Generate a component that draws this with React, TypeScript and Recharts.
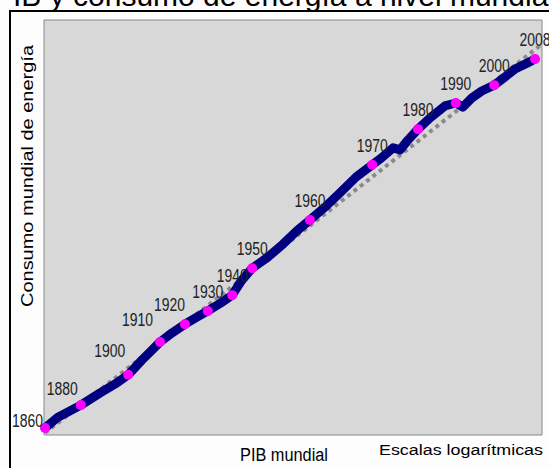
import React from 'react'
import {
  ComposedChart,
  Line,
  Scatter,
  XAxis,
  YAxis,
  CartesianGrid,
  ReferenceArea,
} from 'recharts'

// both axes are logarithmic in the original, values here are an index (0-100) of log GDP / log energy
const markerYears = [1860, 1880, 1900, 1910, 1920, 1930, 1940, 1950, 1960, 1970, 1980, 1990, 2000, 2008]
const markerGdp = [0.2, 7.4, 16.9, 23.3, 28.3, 32.9, 37.8, 41.8, 53.4, 65.9, 75.1, 82.7, 90.4, 98.6]
const markerEnergy = [1.7, 7.2, 14.5, 22.4, 26.7, 29.9, 33.7, 40.2, 51.8, 65.1, 73.7, 80.0, 84.3, 90.6]

// the full track (markers plus the wiggles between them)
const pathGdp = [
  0.2, 2.8, 7.4, 11.2, 14.3, 16.9, 19.7, 21.3, 23.3, 25.7, 28.3, 30.7, 32.9, 35.5, 37.8, 39.6,
  41.8, 45.0, 48.0, 50.8, 53.4, 56.4, 59.4, 62.7, 65.9, 67.7, 70.1, 71.5, 73.1, 75.1, 77.5,
  80.5, 82.7, 84.1, 85.9, 87.9, 90.4, 92.6, 94.6, 97.0, 98.6,
]
const pathEnergy = [
  1.7, 4.3, 7.2, 10.1, 12.3, 14.5, 18.1, 20.0, 22.4, 24.6, 26.7, 28.4, 29.9, 31.8, 33.7, 37.1,
  40.2, 42.9, 46.0, 49.2, 51.8, 54.9, 58.3, 62.2, 65.1, 66.7, 69.2, 68.7, 71.1, 73.7, 76.4,
  79.3, 80.0, 79.0, 81.2, 82.9, 84.3, 86.3, 88.2, 89.6, 90.6,
]

// dotted trend
const trendGdp = [0.2, 99.8]
const trendEnergy = [0.5, 94]

const markers = markerYears.map((year, i) => ({ year, x: markerGdp[i], y: markerEnergy[i] }))
const path = pathGdp.map((x, i) => ({ x, y: pathEnergy[i] }))
const trend = trendGdp.map((x, i) => ({ x, y: trendEnergy[i] }))

// label placement: [dx, dy, anchor]
const labelPos: Record<number, [number, number, string]> = {
  1860: [-2, -1, 'end'],
  1880: [-3, -10, 'end'],
  1900: [-3, -18, 'end'],
  1910: [-7, -16, 'end'],
  1920: [0, -13, 'end'],
}

const sans = "'Liberation Sans', Arial, sans-serif"

function Marker(props: any) {
  const { cx, cy, payload } = props
  const [dx, dy, anchor] = labelPos[payload.year] || [0, -13, 'middle']
  return (
    <g>
      <circle cx={cx} cy={cy} r={5} fill='#ff00ff' />
      <text
        x={cx + dx}
        y={cy + dy}
        textAnchor={anchor as any}
        fontFamily={sans}
        fontSize={18}
        textLength={31}
        lengthAdjust='spacingAndGlyphs'
        fill='#222'
      >
        {payload.year}
      </text>
    </g>
  )
}

export default function App() {
  return (
    <div
      style={{
        position: 'absolute',
        left: 0,
        top: 0,
        width: 549,
        height: 468,
        overflow: 'hidden',
        background: '#fdfdfd',
      }}
    >
      <svg width={549} height={468} style={{ position: 'absolute', left: 0, top: 0 }}>
        <text x={274} y={6} textAnchor='middle' fontFamily={sans} fontSize={30} fill='#000'>
          PIB y consumo de energía a nivel mundial
        </text>
        <rect x={10} y={11} width={600} height={500} fill='none' stroke='#000' strokeWidth={2} />
        <text
          x={284}
          y={461}
          textAnchor='middle'
          fontFamily={sans}
          fontSize={18}
          textLength={88}
          lengthAdjust='spacingAndGlyphs'
          fill='#000'
        >
          PIB mundial
        </text>
        <text
          x={379}
          y={455}
          fontFamily={sans}
          fontSize={14}
          textLength={164}
          lengthAdjust='spacingAndGlyphs'
          fill='#000'
        >
          Escalas logarítmicas
        </text>
        <text
          transform='translate(33,176) rotate(-90)'
          textAnchor='middle'
          fontFamily={sans}
          fontSize={17}
          textLength={262}
          lengthAdjust='spacingAndGlyphs'
          fill='#000'
        >
          Consumo mundial de energía
        </text>
      </svg>
      <div style={{ position: 'absolute', left: 0, top: 0 }}>
        <ComposedChart
          width={549}
          height={468}
          margin={{ top: 20, right: 7, bottom: 33, left: 44 }}
          style={{ overflow: 'visible' }}
        >
          <CartesianGrid fill='#d8d8d8' horizontal={false} vertical={false} />
          <XAxis type='number' dataKey='x' domain={[0, 100]} hide />
          <YAxis type='number' dataKey='y' domain={[0, 100]} hide />
          <ReferenceArea x1={0} x2={100} y1={0} y2={100} fill='none' stroke='#888' strokeWidth={1} />
          <Line
            data={trend}
            dataKey='y'
            type='linear'
            stroke='#8a8a8a'
            strokeWidth={4}
            strokeDasharray='4 4'
            dot={false}
            isAnimationActive={false}
          />
          <Line
            data={path}
            dataKey='y'
            type='linear'
            stroke='#000080'
            strokeWidth={9}
            strokeLinejoin='round'
            strokeLinecap='round'
            dot={false}
            isAnimationActive={false}
          />
          <Scatter data={markers} dataKey='y' shape={Marker} isAnimationActive={false} />
        </ComposedChart>
      </div>
    </div>
  )
}
